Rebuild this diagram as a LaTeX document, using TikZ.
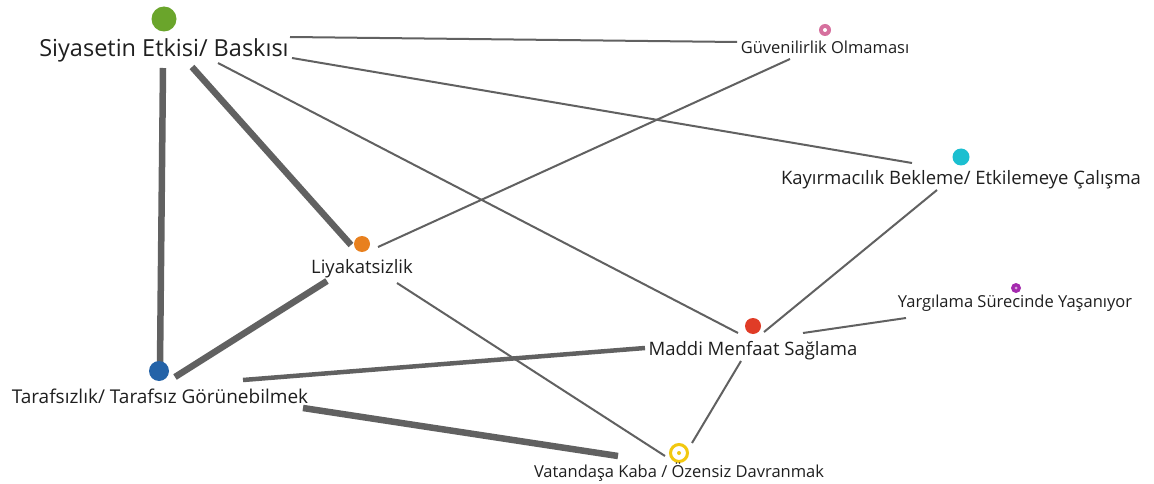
\documentclass[tikz,border=0pt]{standalone}
\usepackage{fontspec}
\setmainfont{Open Sans}
\begin{document}
\begin{tikzpicture}[x=1pt,y=-1pt,
  lbl/.style={inner sep=0pt,anchor=base,text=black!88,font=\fontsize{16.5}{18}\selectfont},
  mlbl/.style={lbl,font=\fontsize{18.5}{20}\selectfont},
  biglbl/.style={lbl,font=\fontsize{23.5}{25}\selectfont},
  dot/.style={circle,inner sep=0pt,minimum size=#1},
  edge/.style={draw=black!62,line width=2pt},
  medge/.style={draw=black!62,line width=4.5pt},
  thick edge/.style={draw=black!62,line width=6.5pt}]
\definecolor{cgreen}{HTML}{6AA52B}
\definecolor{corange}{HTML}{E8801E}
\definecolor{ccyan}{HTML}{1BBFD0}
\definecolor{cred}{HTML}{E03C27}
\definecolor{cblue}{HTML}{2463A8}
\definecolor{cpink}{HTML}{D6709E}
\definecolor{cpurple}{HTML}{A42AAE}
\definecolor{cyellow}{HTML}{F2C80F}
\useasboundingbox[fill=white] (0,0) rectangle (1154,484);

% edges
\coordinate (sg1) at (290,37);  \coordinate (sg2) at (737,42);
\coordinate (sk1) at (292,58);  \coordinate (sk2) at (912,163);
\coordinate (sm1) at (218,63);  \coordinate (sm2) at (738,333);
\coordinate (sl1) at (192,67);  \coordinate (sl2) at (351,245);
\coordinate (st1) at (163,68);  \coordinate (st2) at (160,365);
\coordinate (lg1) at (378,247); \coordinate (lg2) at (790,59);
\coordinate (lt1) at (327,281); \coordinate (lt2) at (175,377);
\coordinate (lv1) at (397,283); \coordinate (lv2) at (665,456);
\coordinate (tm1) at (243,380); \coordinate (tm2) at (645,348);
\coordinate (tv1) at (303,408); \coordinate (tv2) at (618,456);
\coordinate (mk1) at (764,332); \coordinate (mk2) at (937,190);
\coordinate (my1) at (803,333); \coordinate (my2) at (906,318);
\coordinate (mv1) at (741,361); \coordinate (mv2) at (692,443);

\draw[edge] (sg1) -- (sg2);
\draw[edge] (sk1) -- (sk2);
\draw[edge] (sm1) -- (sm2);
\draw[thick edge] (sl1) -- (sl2);
\draw[thick edge] (st1) -- (st2);
\draw[edge] (lg1) -- (lg2);
\draw[thick edge] (lt1) -- (lt2);
\draw[edge] (lv1) -- (lv2);
\draw[medge] (tm1) -- (tm2);
\draw[thick edge] (tv1) -- (tv2);
\draw[edge] (mk1) -- (mk2);
\draw[edge] (my1) -- (my2);
\draw[edge] (mv1) -- (mv2);

% markers
\node[dot=25pt,fill=cgreen] (ds) at (164,19) {};
\node[dot=16pt,fill=corange] (dl) at (362,244) {};
\node[dot=20pt,fill=cblue] (dt) at (159,371) {};
\node[dot=16pt,fill=cred] (dm) at (753,326) {};
\node[dot=17pt,fill=ccyan] (dk) at (961,157) {};
\node[dot=12pt,fill=cpink] (dg) at (825,30) {};
\node[dot=4pt,fill=white] (dgc) at (dg.center) {};
\node[dot=10pt,fill=cpurple] (dy) at (1016,288) {};
\node[dot=3pt,fill=white,opacity=0.6] (dyc) at (dy.center) {};
\node[dot=17pt,draw=cyellow,line width=3pt,fill=white] (dv) at (679,453) {};
\node[dot=4pt,fill=cyellow] (dvc) at (dv.center) {};

% labels
\node[biglbl] (ls) at (164,57) {Siyasetin Etkisi/ Baskısı};
\node[lbl] (lg) at (825,54) {Güvenilirlik Olmaması};
\node[mlbl] (lk) at (961,185) {Kayırmacılık Bekleme/ Etkilemeye Çalışma};
\node[mlbl] (ll) at (362,273) {Liyakatsizlik};
\node[lbl] (ly) at (1015,307) {Yargılama Sürecinde Yaşanıyor};
\node[mlbl] (lm) at (753,355) {Maddi Menfaat Sağlama};
\node[mlbl,font=\fontsize{19}{21}\selectfont] (lt) at (160,403) {Tarafsızlık/ Tarafsız Görünebilmek};
\node[lbl] (lv) at (679,477) {Vatandaşa Kaba / Özensiz Davranmak};
\end{tikzpicture}
\end{document}
